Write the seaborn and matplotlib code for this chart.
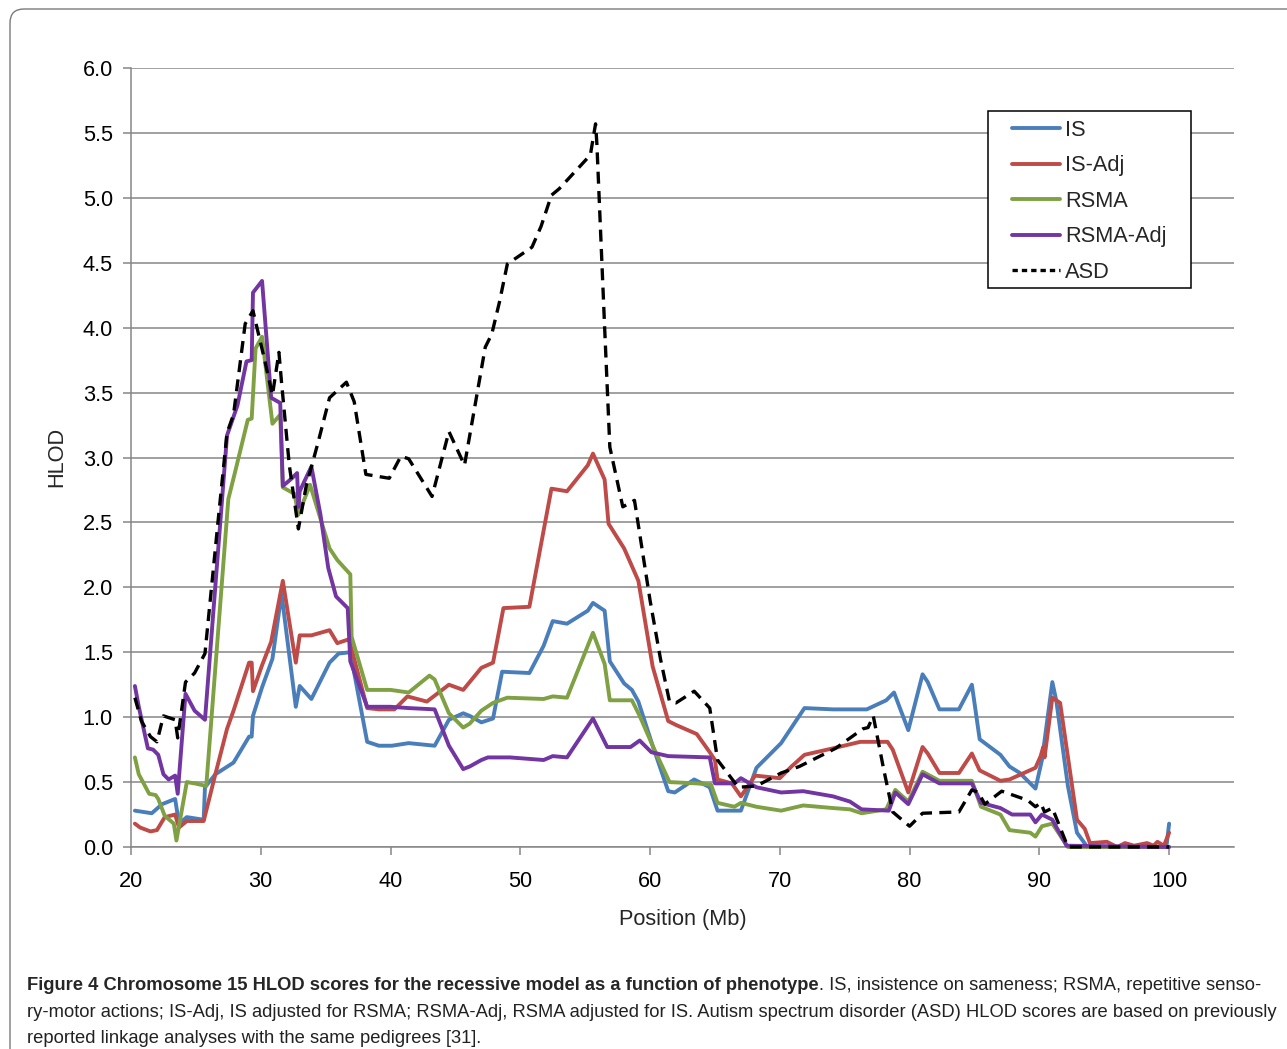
import numpy as np
import pandas as pd
import matplotlib
matplotlib.use("Agg")
import matplotlib.pyplot as plt
from matplotlib import font_manager
from matplotlib.patches import FancyBboxPatch, Rectangle
from matplotlib.lines import Line2D
from matplotlib.transforms import IdentityTransform
import seaborn as sns

# ---- HLOD scores along chromosome 15 (position in Mb) ----
is_x = [20.3, 21.6, 22.4, 23.4, 23.7, 24.3, 25.6, 25.7, 26.5, 27.9, 29.1, 29.3, 29.4, 30.1, 30.9,
        31.6, 32.7, 33.0, 33.9, 35.3, 36.0, 36.9, 38.2, 39.1, 40.1, 41.4, 43.4, 44.5, 45.6, 46.1,
        47.0, 47.9, 48.6, 50.7, 51.8, 52.5, 53.6, 55.2, 55.6, 56.5, 56.9, 58.0, 58.6, 59.1, 60.2,
        61.4, 61.9, 63.4, 64.6, 65.2, 67.0, 68.2, 70.1, 71.9, 74.1, 76.7, 78.2, 78.8, 79.9, 81.0,
        81.4, 82.3, 83.8, 84.8, 85.4, 87.0, 87.7, 88.5, 89.7, 90.2, 91.0, 91.3, 92.2, 92.9, 93.7,
        99.3, 99.8, 100.0]
is_y = [0.28, 0.26, 0.33, 0.37, 0.18, 0.23, 0.21, 0.46, 0.56, 0.65, 0.85, 0.85, 1.01, 1.23, 1.45,
        1.95, 1.08, 1.24, 1.14, 1.42, 1.49, 1.50, 0.81, 0.78, 0.78, 0.80, 0.78, 0.98, 1.03, 1.01,
        0.96, 0.99, 1.35, 1.34, 1.55, 1.74, 1.72, 1.82, 1.88, 1.82, 1.43, 1.26, 1.21, 1.12, 0.78,
        0.43, 0.42, 0.52, 0.46, 0.28, 0.28, 0.61, 0.80, 1.07, 1.06, 1.06, 1.13, 1.19, 0.90, 1.33,
        1.27, 1.06, 1.06, 1.25, 0.83, 0.71, 0.62, 0.57, 0.45, 0.67, 1.27, 1.13, 0.47, 0.11, 0.0,
        0.0, 0.01, 0.18]

is_adj_x = [20.3, 20.7, 21.5, 22.0, 22.6, 23.4, 23.7, 24.3, 25.6, 26.5, 27.4, 27.9, 29.1, 29.3, 29.4,
            30.1, 30.8, 31.7, 32.7, 33.0, 33.9, 35.3, 35.9, 36.8, 38.2, 39.1, 40.3, 41.3, 42.8, 44.5,
            45.6, 47.0, 47.9, 48.7, 50.7, 52.4, 53.6, 55.2, 55.6, 56.5, 56.8, 58.0, 59.1, 60.2, 61.4,
            62.0, 63.6, 64.6, 65.0, 65.2, 66.3, 67.0, 68.1, 70.0, 70.9, 71.9, 74.1, 76.2, 78.3, 78.7,
            79.9, 81.0, 81.4, 82.3, 83.8, 84.8, 85.4, 87.0, 87.7, 89.7, 90.1, 90.3, 90.4, 91.0, 91.6,
            92.9, 93.5, 93.9, 95.2, 96.0, 96.6, 97.3, 98.3, 98.8, 99.1, 99.6, 100.0]
is_adj_y = [0.18, 0.15, 0.12, 0.13, 0.23, 0.25, 0.15, 0.20, 0.20, 0.56, 0.91, 1.05, 1.42, 1.42, 1.20,
            1.40, 1.58, 2.05, 1.42, 1.63, 1.63, 1.67, 1.57, 1.60, 1.07, 1.06, 1.06, 1.16, 1.12, 1.25,
            1.21, 1.38, 1.42, 1.84, 1.85, 2.76, 2.74, 2.94, 3.03, 2.83, 2.49, 2.30, 2.05, 1.39, 0.97,
            0.94, 0.87, 0.73, 0.67, 0.52, 0.49, 0.39, 0.55, 0.53, 0.62, 0.71, 0.76, 0.81, 0.81, 0.75,
            0.42, 0.77, 0.72, 0.57, 0.57, 0.72, 0.59, 0.51, 0.52, 0.61, 0.70, 0.77, 0.69, 1.15, 1.11,
            0.21, 0.14, 0.03, 0.04, 0.0, 0.03, 0.01, 0.03, 0.01, 0.04, 0.01, 0.11]

rsma_x = [20.3, 20.6, 21.4, 21.9, 22.1, 22.6, 23.3, 23.5, 24.3, 24.9, 25.8, 27.5, 28.0, 29.0, 29.3,
          29.6, 30.1, 30.9, 31.5, 31.7, 32.6, 32.9, 33.8, 35.3, 35.9, 36.9, 37.0, 38.2, 40.0, 41.4,
          43.0, 43.4, 44.5, 45.6, 46.1, 47.0, 47.9, 49.0, 51.8, 52.5, 53.6, 55.6, 56.5, 56.9, 58.6,
          59.2, 60.2, 61.5, 63.6, 64.7, 65.2, 66.5, 67.0, 68.2, 70.1, 71.8, 74.1, 75.4, 76.3, 78.2,
          78.9, 79.9, 81.0, 82.3, 84.8, 85.5, 87.0, 87.7, 89.3, 89.7, 90.2, 91.0, 92.2, 100.0]
rsma_y = [0.69, 0.56, 0.41, 0.40, 0.37, 0.24, 0.18, 0.05, 0.50, 0.49, 0.47, 2.68, 2.88, 3.29, 3.30,
          3.84, 3.93, 3.26, 3.33, 2.77, 2.72, 2.56, 2.79, 2.30, 2.21, 2.10, 1.62, 1.21, 1.21, 1.19,
          1.32, 1.29, 1.03, 0.92, 0.95, 1.05, 1.11, 1.15, 1.14, 1.16, 1.15, 1.65, 1.41, 1.13, 1.13,
          1.01, 0.78, 0.50, 0.49, 0.48, 0.34, 0.31, 0.34, 0.31, 0.28, 0.32, 0.30, 0.29, 0.26, 0.29,
          0.44, 0.35, 0.58, 0.51, 0.51, 0.31, 0.25, 0.13, 0.11, 0.08, 0.16, 0.18, 0.0, 0.0]

rsma_adj_x = [20.3, 20.6, 21.3, 21.7, 22.1, 22.5, 22.9, 23.4, 23.6, 24.2, 24.9, 25.7, 27.4, 28.2, 28.9,
              29.3, 29.4, 30.1, 30.8, 31.5, 31.7, 32.4, 32.8, 32.9, 33.0, 33.9, 34.6, 35.2, 35.8, 36.7,
              36.9, 38.2, 40.0, 41.4, 43.4, 44.5, 45.6, 46.1, 47.0, 47.5, 49.2, 51.8, 52.5, 53.6, 55.6,
              56.7, 58.5, 59.2, 60.1, 61.4, 64.6, 65.0, 66.5, 67.0, 68.2, 70.1, 71.8, 74.1, 75.4, 76.3,
              78.4, 78.9, 79.9, 81.0, 82.3, 84.8, 85.5, 87.0, 87.9, 89.3, 89.7, 90.2, 91.0, 92.1, 100.0]
rsma_adj_y = [1.24, 1.08, 0.76, 0.75, 0.71, 0.56, 0.52, 0.55, 0.41, 1.18, 1.05, 0.98, 3.17, 3.40, 3.74,
              3.75, 4.27, 4.36, 3.46, 3.42, 2.78, 2.84, 2.88, 2.62, 2.74, 2.93, 2.56, 2.15, 1.93, 1.84,
              1.43, 1.08, 1.08, 1.07, 1.06, 0.78, 0.60, 0.62, 0.67, 0.69, 0.69, 0.67, 0.70, 0.69, 0.99,
              0.77, 0.77, 0.82, 0.73, 0.70, 0.69, 0.49, 0.49, 0.53, 0.46, 0.42, 0.43, 0.39, 0.35, 0.29,
              0.28, 0.42, 0.33, 0.56, 0.49, 0.49, 0.34, 0.30, 0.25, 0.25, 0.19, 0.25, 0.21, 0.01, 0.0]

asd_x = [20.3, 20.8, 21.5, 22.0, 22.5, 23.4, 23.6, 24.2, 24.9, 25.7, 26.7, 27.4, 27.9, 28.8, 29.4,
         30.3, 30.9, 31.4, 31.6, 32.2, 32.9, 33.5, 34.4, 35.3, 36.6, 37.2, 38.1, 39.9, 40.8, 41.4,
         43.2, 44.5, 45.7, 47.3, 47.8, 48.4, 49.0, 50.9, 51.6, 52.4, 53.0, 55.4, 55.8, 55.9, 56.5,
         56.9, 57.9, 58.8, 60.0, 60.8, 61.5, 62.0, 63.4, 64.6, 65.2, 66.8, 68.2, 70.1, 71.5, 74.3,
         76.4, 76.8, 77.2, 78.0, 78.7, 80.0, 81.0, 83.8, 84.8, 85.3, 85.8, 87.1, 89.1, 89.7, 90.1,
         90.4, 91.0, 91.6, 92.2, 100.0]
asd_y = [1.15, 0.97, 0.85, 0.81, 1.01, 0.98, 0.84, 1.27, 1.34, 1.49, 2.50, 3.19, 3.33, 4.03, 4.13,
         3.75, 3.48, 3.81, 3.58, 2.94, 2.45, 2.78, 3.11, 3.46, 3.58, 3.43, 2.87, 2.84, 3.01, 2.99,
         2.70, 3.20, 2.94, 3.85, 3.95, 4.20, 4.49, 4.62, 4.78, 5.02, 5.07, 5.33, 5.57, 5.42, 4.00,
         3.08, 2.62, 2.67, 1.90, 1.45, 1.12, 1.11, 1.20, 1.07, 0.67, 0.46, 0.47, 0.57, 0.62, 0.76,
         0.91, 0.92, 1.01, 0.60, 0.27, 0.16, 0.26, 0.27, 0.44, 0.42, 0.33, 0.43, 0.36, 0.31, 0.34,
         0.27, 0.30, 0.15, 0.0, 0.0]

series_names = ["IS", "IS-Adj", "RSMA", "RSMA-Adj", "ASD"]
x_ticks = [20, 30, 40, 50, 60, 70, 80, 90, 100]
y_ticks = [0.0, 0.5, 1.0, 1.5, 2.0, 2.5, 3.0, 3.5, 4.0, 4.5, 5.0, 5.5, 6.0]

caption_bold = "Figure 4 Chromosome 15 HLOD scores for the recessive model as a function of phenotype"
caption_lines = [
    ". IS, insistence on sameness; RSMA, repetitive senso-",
    "ry-motor actions; IS-Adj, IS adjusted for RSMA; RSMA-Adj, RSMA adjusted for IS. "
    "Autism spectrum disorder (ASD) HLOD scores are based on previously",
    "reported linkage analyses with the same pedigrees [31].",
]

# ---- tidy data ----
frames = []
for name, xs, ys in zip(series_names,
                        [is_x, is_adj_x, rsma_x, rsma_adj_x, asd_x],
                        [is_y, is_adj_y, rsma_y, rsma_adj_y, asd_y]):
    frames.append(pd.DataFrame({"pos": xs, "hlod": ys, "series": name}))
df = pd.concat(frames, ignore_index=True)

colors = {"IS": "#4A7EBB", "IS-Adj": "#BE4B48", "RSMA": "#7FA143",
          "RSMA-Adj": "#7335A2", "ASD": "#000000"}

sns.set_style("white")
plt.rcParams["font.family"] = ["Liberation Sans", "DejaVu Sans"]

W, H = 1287, 1049
fig = plt.figure(figsize=(W / 100, H / 100), dpi=100)
ax = fig.add_axes([131 / W, 1 - 847 / H, 1103 / W, 779 / H])

lw = 2.8
asd_lw = 2.4
asd_dash = [3.6, 2.2]
for name in series_names:
    sub = df[df["series"] == name]
    if name == "ASD":
        sns.lineplot(data=sub, x="pos", y="hlod", ax=ax, color=colors[name], lw=asd_lw,
                     estimator=None, sort=False, legend=False, clip_on=False, zorder=5)
        ax.lines[-1].set_dashes(asd_dash)
    else:
        sns.lineplot(data=sub, x="pos", y="hlod", ax=ax, color=colors[name], lw=lw,
                     estimator=None, sort=False, legend=False, clip_on=False, zorder=3)
        ax.lines[-1].set_solid_capstyle("round")
        ax.lines[-1].set_solid_joinstyle("round")

ax.set_xlim(20, 105)
ax.set_ylim(0, 6)
ax.set_xticks(x_ticks)
ax.set_yticks(y_ticks)
ax.set_yticklabels([f"{v:.1f}" for v in y_ticks])

grid_c = "#868686"
ax.yaxis.grid(True, color=grid_c, lw=1.1)
ax.xaxis.grid(False)
ax.set_axisbelow(True)
for s in ["top", "right"]:
    ax.spines[s].set_visible(False)
for s in ["left", "bottom"]:
    ax.spines[s].set_color(grid_c)
    ax.spines[s].set_linewidth(1.1)
ax.tick_params(axis="both", which="major", direction="out", length=6, width=1.1,
               color=grid_c, labelsize=15.7, labelcolor="black")
ax.tick_params(axis="x", bottom=True, pad=11.5)
ax.tick_params(axis="y", left=True, pad=7)

ax.set_xlabel("Position (Mb)", fontsize=15.7)
ax.set_ylabel("HLOD", fontsize=15.7)
ax.xaxis.set_label_coords((683 - 131) / 1103, (847 - 919) / 779)
ax.xaxis.label.set_va("center")
ax.yaxis.set_label_coords((57 - 131) / 1103, (847 - 457) / 779)
ax.yaxis.label.set_va("center")
ax.yaxis.label.set_ha("center")

# legend entries, framed by a fixed box
handles = []
for name in series_names:
    if name == "ASD":
        h = Line2D([], [], color="black", lw=asd_lw, dashes=[1.6, 1.2])
    else:
        h = Line2D([], [], color=colors[name], lw=lw, solid_capstyle="round")
    handles.append(h)
leg = ax.legend(handles, series_names, loc="upper left",
                bbox_to_anchor=(1012 / W, 1 - 120 / H), bbox_transform=fig.transFigure,
                frameon=False, fontsize=15.7,
                handlelength=2.2, handletextpad=0.22, labelspacing=0.66,
                borderpad=0, borderaxespad=0)
leg.set_zorder(10)
legend_box = Rectangle((988, H - 288), 203, 177, transform=IdentityTransform(),
                       facecolor="white", edgecolor="black", lw=1.1, zorder=9)
ax.add_artist(legend_box)
legend_box.set_clip_on(False)

# rounded outer panel frame
frame = FancyBboxPatch((10, -60), 1400, H - 9 + 60, boxstyle="round,pad=0,rounding_size=14",
                       transform=IdentityTransform(), fill=False, edgecolor="#7a7a7a",
                       lw=1.0, figure=fig, clip_on=False)
fig.patches.append(frame)

# caption
names = {f.name for f in font_manager.fontManager.ttflist}
cap_family = "Liberation Sans Narrow" if "Liberation Sans Narrow" in names else "Liberation Sans"
renderer = fig.canvas.get_renderer()
probe = fig.text(0, 0, caption_lines[1], fontsize=13, family=cap_family)
w = probe.get_window_extent(renderer).width
probe.remove()
cap_fs = 13 * 1249 / w

x0 = 27 / W
b1 = fig.text(x0, 1 - 990 / H, caption_bold, fontsize=cap_fs, family=cap_family,
              fontweight="bold", va="baseline", ha="left")
bb = b1.get_window_extent(renderer)
fig.text(bb.x1 / W, 1 - 990 / H, caption_lines[0], fontsize=cap_fs, family=cap_family,
         va="baseline", ha="left", color="#222222")
fig.text(x0, 1 - 1017 / H, caption_lines[1], fontsize=cap_fs, family=cap_family,
         va="baseline", ha="left", color="#222222")
fig.text(x0, 1 - 1043 / H, caption_lines[2], fontsize=cap_fs, family=cap_family,
         va="baseline", ha="left", color="#222222")

fig.savefig("out.png", dpi=100)
